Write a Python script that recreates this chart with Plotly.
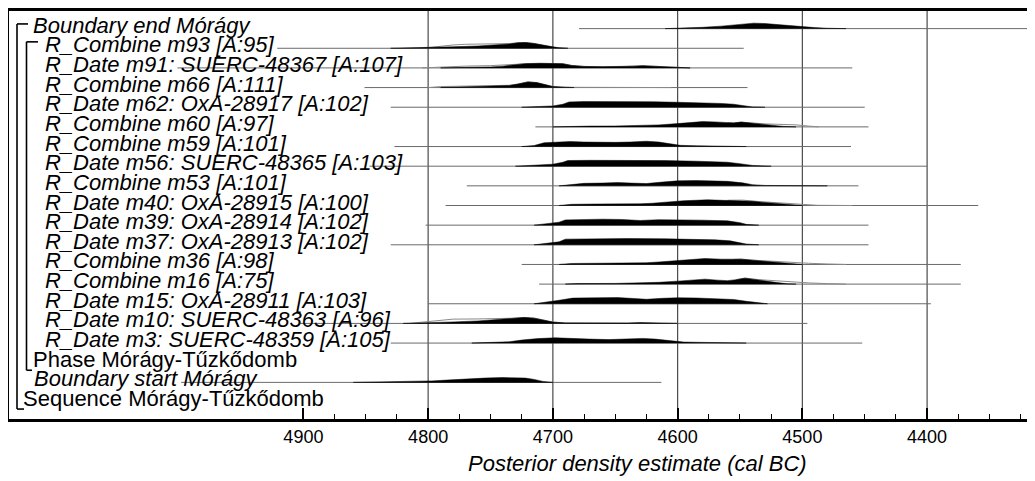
import plotly.graph_objects as go

# ---------------- data (years cal BC, heights = relative density) -------------
row_labels = [
    "Boundary end Mórágy",
    "R_Combine m93 [A:95]",
    "R_Date m91: SUERC-48367 [A:107]",
    "R_Combine m66 [A:111]",
    "R_Date m62: OxA-28917 [A:102]",
    "R_Combine m60 [A:97]",
    "R_Combine m59 [A:101]",
    "R_Date m56: SUERC-48365 [A:103]",
    "R_Combine m53 [A:101]",
    "R_Date m40: OxA-28915 [A:100]",
    "R_Date m39: OxA-28914 [A:102]",
    "R_Date m37: OxA-28913 [A:102]",
    "R_Combine m36 [A:98]",
    "R_Combine m16 [A:75]",
    "R_Date m15: OxA-28911 [A:103]",
    "R_Date m10: SUERC-48363 [A:96]",
    "R_Date m3: SUERC-48359 [A:105]",
    "Phase Mórágy-Tűzkődomb",
    "Boundary start Mórágy",
    "Sequence Mórágy-Tűzkődomb",
]

# range lines (start year, end year) per row; None = no line
range_start = [4679, 4921, 5001, 4851, 4830, 4714, 4827, 4847, 4769, 4786,
               4802, 4830, 4725, 4711, 4800, 4903, 4830, None, 4998, None]
range_end = [4300, 4547, 4460, 4544, 4450, 4447, 4461, 4400, 4455, 4359,
             4447, 4447, 4373, 4373, 4397, 4496, 4452, None, 4613, None]

end_post = [(4610, 0), (4595, 0.5), (4580, 1.3), (4565, 2.5), (4555, 3.6), (4545, 4.8), (4539, 5.5),
            (4530, 5.1), (4520, 4), (4505, 2.3), (4490, 1), (4480, 0.4), (4465, 0)]
m93_post = [(4830, 0), (4815, 0.3), (4800, 0.8), (4780, 1.5), (4760, 2.3), (4745, 3.3), (4735, 4.3),
            (4728, 5.5), (4722, 5.8), (4715, 4.8), (4708, 3.2), (4700, 0.8), (4695, 0.4), (4688, 0)]
m93_like = [(4805, 0), (4795, 1.5), (4780, 3.3), (4770, 4.0), (4750, 4.3), (4735, 4.7), (4728, 5.5),
            (4722, 5.8), (4715, 4.8), (4708, 3.2), (4700, 0.8), (4688, 0)]
m91_post = [(4790, 0), (4770, 0.4), (4750, 1), (4740, 1.8), (4730, 3.5), (4722, 4.3), (4710, 4.7),
            (4700, 4.7), (4692, 4.2), (4685, 2.5), (4675, 1.5), (4660, 1.2), (4645, 1.3), (4635, 1.8),
            (4628, 2.2), (4620, 1.8), (4610, 0.8), (4600, 0.3), (4590, 0)]
m91_like = [(4805, 0), (4790, 1), (4770, 1.8), (4750, 2.3), (4740, 2.6), (4730, 3.6), (4722, 4.3),
            (4700, 4.7), (4692, 4.2), (4685, 2.5), (4675, 1.5), (4660, 1.2), (4645, 1.3), (4628, 2.2),
            (4610, 0.8), (4590, 0)]
m66_post = [(4790, 0), (4775, 0.4), (4760, 0.9), (4745, 1.3), (4735, 2), (4728, 3.5), (4720, 5.7),
            (4713, 5), (4706, 2.8), (4700, 1), (4690, 0.4), (4683, 0)]
m66_like = [(4800, 0), (4790, 1), (4770, 1.5), (4750, 1.8), (4735, 2.3), (4728, 3.5), (4720, 5.7),
            (4713, 5), (4706, 2.8), (4700, 1), (4690, 0.3), (4650, 0.1), (4625, 0.5), (4605, 0)]
m62_post = [(4725, 0), (4712, 0.5), (4700, 1.3), (4692, 3), (4687, 5.3), (4675, 5.7), (4650, 5.8),
            (4620, 5.5), (4600, 5), (4580, 4.5), (4565, 3.8), (4555, 3), (4548, 1.5), (4540, 0.3), (4530, 0)]
m60_post = [(4700, 0), (4690, 0.5), (4670, 0.8), (4650, 0.9), (4630, 1.2), (4615, 2), (4600, 3.3),
            (4590, 4.2), (4580, 5.3), (4570, 5), (4560, 4), (4555, 4), (4549, 4.8), (4543, 4),
            (4535, 2.8), (4525, 1.5), (4515, 0.5), (4505, 0)]
m60_like = [(4560, 4), (4555, 4), (4549, 4.8), (4540, 3.6), (4530, 3), (4520, 2.6), (4505, 2),
            (4495, 0.8), (4487, 0)]
m59_post = [(4725, 0), (4715, 1), (4707, 3.8), (4695, 4.3), (4686, 5), (4675, 4.5), (4662, 4),
            (4650, 4.2), (4638, 4.5), (4625, 5.3), (4615, 4.5), (4605, 2.5), (4598, 1.2), (4585, 0.8),
            (4570, 0.7), (4550, 0.4), (4545, 0)]
m56_post = [(4730, 0), (4715, 0.8), (4700, 2), (4692, 4), (4688, 5.7), (4670, 5.9), (4640, 5.9),
            (4610, 5.6), (4585, 5), (4570, 4.6), (4560, 4), (4550, 2.5), (4540, 0.8), (4530, 0.2), (4525, 0)]
m53_post = [(4695, 0), (4685, 1.5), (4675, 2.5), (4660, 2.8), (4648, 3.3), (4638, 2.8), (4625, 2.3),
            (4612, 3.8), (4600, 5), (4585, 5.3), (4570, 5), (4560, 4.5), (4548, 3), (4540, 1.2),
            (4530, 0.4), (4500, 0.3), (4480, 0)]
m40_post = [(4695, 0), (4685, 1.2), (4665, 1.5), (4640, 1.5), (4630, 1.7), (4620, 2.3), (4610, 3.5),
            (4595, 4.8), (4576, 5.7), (4560, 5.3), (4548, 5), (4540, 4.2), (4530, 3), (4515, 1.5),
            (4505, 0.3), (4500, 0)]
m40_like = [(4560, 5.3), (4548, 5.4), (4535, 4), (4520, 2.8), (4505, 1.8), (4495, 0.5), (4488, 0.2),
            (4460, 0)]
m39_post = [(4715, 0), (4705, 1.5), (4695, 3), (4690, 5.3), (4675, 5.7), (4660, 6), (4645, 5.7),
            (4630, 4.7), (4615, 5.5), (4600, 5.5), (4580, 5), (4560, 4.3), (4550, 2.5), (4545, 0.8), (4535, 0)]
m37_post = [(4715, 0), (4705, 1.5), (4695, 3), (4690, 5.7), (4670, 6.2), (4640, 6.3), (4610, 6),
            (4590, 5.6), (4570, 5), (4558, 4), (4550, 2.5), (4545, 0.8), (4535, 0)]
m36_post = [(4695, 0), (4685, 1), (4665, 1.2), (4650, 1.5), (4640, 1), (4625, 1.7), (4615, 2.5),
            (4600, 4), (4590, 5), (4578, 6), (4565, 5.3), (4555, 5), (4549, 5.3), (4540, 4.2),
            (4530, 3), (4515, 1.3), (4505, 0.3), (4500, 0)]
m36_like = [(4555, 5), (4549, 5.4), (4535, 4), (4520, 2.8), (4505, 2), (4495, 1.2), (4480, 0.5), (4465, 0)]
m16_post = [(4690, 0), (4680, 0.5), (4650, 0.7), (4630, 1), (4615, 1.8), (4600, 3), (4590, 4),
            (4578, 5), (4568, 4), (4560, 3.5), (4553, 4.5), (4546, 6), (4540, 5), (4530, 3),
            (4520, 1.5), (4512, 0.3), (4505, 0)]
m16_like = [(4553, 4.5), (4546, 6), (4535, 4.5), (4520, 3), (4505, 2.2), (4495, 1.2), (4480, 0.5), (4465, 0)]
m15_post = [(4715, 0), (4705, 1.5), (4695, 3.5), (4684, 5.7), (4665, 6), (4648, 6.2), (4635, 5.3),
            (4625, 4.5), (4612, 5.5), (4600, 6), (4585, 5.8), (4570, 5.3), (4555, 4.3), (4545, 2.5),
            (4535, 0.8), (4528, 0)]
m10_post = [(4820, 0), (4800, 0.5), (4780, 1.5), (4760, 2.5), (4745, 3.5), (4733, 5), (4723, 6),
            (4715, 5.3), (4708, 3.5), (4700, 1.3), (4690, 0.5), (4670, 0.3), (4640, 0.3), (4630, 0.8),
            (4620, 0.4), (4600, 0)]
m10_like = [(4815, 0), (4800, 2), (4780, 4.3), (4760, 4.5), (4745, 4.7), (4733, 5.2), (4723, 6),
            (4715, 5.3), (4708, 3.5), (4700, 1.3), (4690, 0.5), (4600, 0)]
m3_post = [(4765, 0), (4750, 0.5), (4735, 1.3), (4725, 3), (4712, 4.5), (4698, 5.3), (4685, 5),
           (4671, 4), (4655, 3.5), (4640, 4), (4628, 4.7), (4618, 4), (4605, 2), (4595, 1),
           (4580, 0.7), (4560, 0.5), (4545, 0)]
start_post = [(4860, 0), (4830, 0.4), (4810, 0.9), (4797, 1.5), (4785, 2.3), (4770, 3.5), (4755, 4.3),
              (4740, 4.9), (4730, 4.9), (4722, 4.3), (4715, 3), (4708, 1), (4700, 0)]

posteriors = [end_post, m93_post, m91_post, m66_post, m62_post, m60_post, m59_post, m56_post,
              m53_post, m40_post, m39_post, m37_post, m36_post, m16_post, m15_post, m10_post,
              m3_post, None, start_post, None]
likelihoods = [None, m93_like, m91_like, m66_like, None, m60_like, None, None, None, m40_like,
               None, None, m36_like, m16_like, None, m10_like, None, None, None, None]

major_ticks = [4900, 4800, 4700, 4600, 4500, 4400]
grid_years = [4800, 4700, 4600, 4500, 4400]
minor_ticks = [4875, 4850, 4825, 4775, 4750, 4725, 4675, 4650, 4625, 4575, 4550, 4525,
               4475, 4450, 4425, 4375, 4350, 4325]
x_title = "Posterior density estimate (cal BC)"

# ---------------- layout geometry ----------------
OFF = 8                       # page body margin (screen px)
W, H = 1035 - OFF, 481 - OFF  # figure size so it ends at the window edge
L, R, T, B = 1, 0, 1, 62
PW, PH = W - L - R, H - T - B
X_LEFT, X_RIGHT = 5136.0, 4313.5
ROW_PX = 19.75                          # pixel spacing between rows
ROW0_PX = 26.7 - (OFF + T)              # baseline of first row from plot top
Y_TOP = -ROW0_PX / ROW_PX
Y_BOT = Y_TOP + PH / ROW_PX
HSCALE = 1.0 / ROW_PX                   # density height units -> row units


def px_x(px):   # screen x -> paper
    return (px - OFF - L) / PW


def px_y(py):   # screen y -> paper
    return (OFF + T + PH - py) / PH


fig = go.Figure()

# range lines
for r, (s, e) in enumerate(zip(range_start, range_end)):
    if s is None:
        continue
    fig.add_trace(go.Scatter(x=[s, e], y=[r, r], mode="lines",
                             line=dict(color="#6a6a6a", width=1), hoverinfo="skip", showlegend=False))

# likelihood outlines
for r, lk in enumerate(likelihoods):
    if lk is None:
        continue
    xs = [p[0] for p in lk]
    ys = [r - p[1] * HSCALE for p in lk]
    fig.add_trace(go.Scatter(x=xs, y=ys, mode="lines",
                             line=dict(color="#8a8a8a", width=1), hoverinfo="skip", showlegend=False))

# posterior fills
for r, po in enumerate(posteriors):
    if po is None:
        continue
    xs = [p[0] for p in po] + [p[0] for p in po[::-1]]
    ys = [r - p[1] * HSCALE for p in po] + [r] * len(po)
    fig.add_trace(go.Scatter(x=xs, y=ys, mode="lines", fill="toself", fillcolor="black",
                             line=dict(color="black", width=0.5), hoverinfo="skip", showlegend=False))

shapes = []
for g in grid_years:
    shapes.append(dict(type="line", xref="x", yref="paper", x0=g, x1=g, y0=0, y1=1,
                       line=dict(color="#4a4a4a", width=1.2), layer="below"))


def bracket(xv, ytop, ybot, top_to, bot_to):
    return [
        dict(type="line", xref="paper", yref="paper", x0=px_x(xv), x1=px_x(xv), y0=px_y(ytop), y1=px_y(ybot),
             line=dict(color="black", width=1.6)),
        dict(type="line", xref="paper", yref="paper", x0=px_x(xv), x1=px_x(top_to), y0=px_y(ytop), y1=px_y(ytop),
             line=dict(color="black", width=1.6)),
        dict(type="line", xref="paper", yref="paper", x0=px_x(xv), x1=px_x(bot_to), y0=px_y(ybot), y1=px_y(ybot),
             line=dict(color="black", width=1.6)),
    ]


shapes += bracket(17, 22, 409, 28, 24)      # Sequence
shapes += bracket(26.5, 40, 370, 38, 32)    # Phase

label_x_px = [31] + [43] * 16 + [31, 32, 21]
annotations = []
for r, txt in enumerate(row_labels):
    italic = not (txt.startswith("Phase") or txt.startswith("Sequence"))
    annotations.append(dict(
        text=txt, xref="paper", yref="y", x=px_x(label_x_px[r]), y=r - 3.5 / ROW_PX,
        xanchor="left", yanchor="middle", showarrow=False,
        font=dict(family="Liberation Sans, Arial, sans-serif", size=22, color="black",
                  style="italic" if italic else "normal")))

annotations.append(dict(
    text=x_title, xref="paper", yref="paper", x=px_x(637), y=px_y(464),
    xanchor="center", yanchor="middle", showarrow=False,
    font=dict(family="Liberation Sans, Arial, sans-serif", size=22, color="black", style="italic")))

fig.update_layout(
    width=W, height=H,
    margin=dict(l=L, r=R, t=T, b=B, pad=0),
    paper_bgcolor="white", plot_bgcolor="white",
    showlegend=False,
    shapes=shapes,
    annotations=annotations,
    xaxis=dict(range=[X_LEFT, X_RIGHT], showgrid=False, zeroline=False,
               showline=True, linecolor="black", linewidth=2.5, mirror=True,
               tickmode="array", tickvals=major_ticks, ticktext=[str(v) for v in major_ticks],
               ticks="inside", ticklen=11, tickwidth=1.5, tickcolor="black",
               tickfont=dict(family="Liberation Sans, Arial, sans-serif", size=18, color="black"),
               minor=dict(tickmode="array", tickvals=minor_ticks, ticks="inside", ticklen=5,
                          tickwidth=1, tickcolor="black", showgrid=False)),
    yaxis=dict(range=[Y_BOT, Y_TOP], showgrid=False, zeroline=False,
               showline=True, linecolor="black", linewidth=2.5, mirror=False,
               showticklabels=False, ticks=""),
)

fig.write_html("out.html")
